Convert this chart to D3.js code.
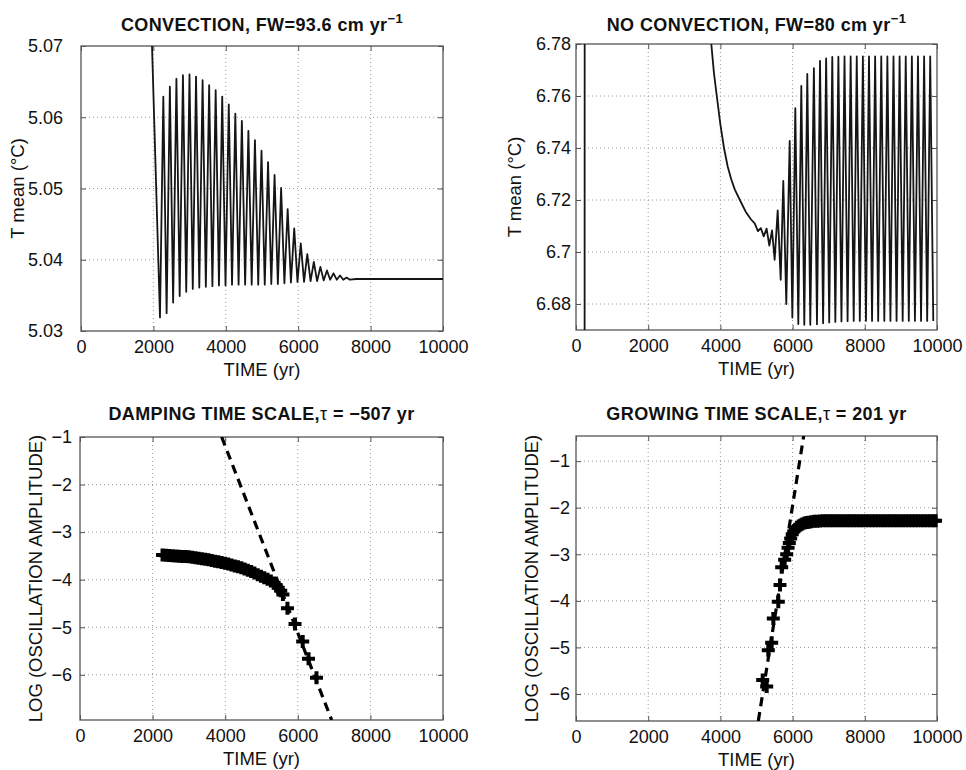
<!DOCTYPE html>
<html><head><meta charset="utf-8">
<script src="https://cdn.jsdelivr.net/npm/d3@7"></script>
<style>
body{margin:0;background:#fff}
svg{display:block}
text{font-family:"Liberation Sans",Arial,Helvetica,sans-serif;fill:#111}
</style></head><body>
<svg id="c" width="966" height="770"></svg>
<script>
// ---------------- DATA ----------------
const xTicks = [0, 2000, 4000, 6000, 8000, 10000];

// Panel 1: convection, mean T (interleaved peaks / troughs)
const p1Time = [1955, 2182,
  2274, 2365, 2455, 2545, 2636, 2726, 2816, 2907, 2997, 3088,
  3178, 3268, 3359, 3449, 3540, 3630, 3720, 3811, 3901, 3992,
  4082, 4172, 4263, 4353, 4444, 4534, 4624, 4715, 4805, 4896,
  4986, 5076, 5167, 5257, 5347, 5438, 5528, 5619, 5709, 5799,
  5890, 5980, 6071, 6161, 6251, 6342, 6432, 6522, 6613, 6703,
  6794, 6884, 6975, 7065, 7155, 7246, 7336, 7426,
  7600, 10000];
const p1Temp = [5.0712, 5.0319,
  5.0629, 5.0325, 5.0643, 5.0340, 5.0654, 5.0349, 5.0659, 5.0355, 5.0660, 5.0359,
  5.0657, 5.0361, 5.0652, 5.0362, 5.0645, 5.0363, 5.0638, 5.0364, 5.0629, 5.0364,
  5.0618, 5.0365, 5.0605, 5.0365, 5.0595, 5.0365, 5.0581, 5.0365, 5.0568, 5.0365,
  5.0553, 5.0365, 5.0537, 5.0366, 5.0519, 5.0366, 5.0501, 5.0367, 5.0471, 5.0368,
  5.0444, 5.0369, 5.0423, 5.0369, 5.0408, 5.0370, 5.0397, 5.0370, 5.0390, 5.0371,
  5.0385, 5.0372, 5.0381, 5.0372, 5.0378, 5.0372, 5.0375, 5.0372,
  5.0373, 5.0373];
const yTicks1 = [5.03, 5.04, 5.05, 5.06, 5.07];
const yLabels1 = ["5.03", "5.04", "5.05", "5.06", "5.07"];

// Panel 2: no convection, mean T
const p2Time = [0, 238, 242, 3690, 3748, 3820, 3900, 4000, 4100, 4200, 4300, 4400, 4540, 4700, 4850, 4950,
  5040, 5120, 5200, 5280, 5355, 5430, 5503, 5587, 5670, 5742, 5825, 5919, 5993, 6075,
  6158, 6241, 6324, 6407, 6490, 6590, 6675, 6760, 6845, 6929, 7014, 7099, 7184, 7268,
  7353, 7438, 7523, 7608, 7693, 7777, 7862, 7947, 8032, 8116, 8201, 8286, 8371, 8456,
  8541, 8625, 8710, 8795, 8880, 8964, 9049, 9134, 9219, 9304, 9389, 9473, 9558, 9643,
  9728, 9812, 9897];
const p2Temp = [6.60, 6.60, 6.95, 6.80, 6.78, 6.769, 6.760, 6.749, 6.740, 6.733, 6.728, 6.724, 6.720, 6.7155, 6.7125, 6.7110,
  6.7080, 6.7092, 6.7060, 6.7090, 6.7025, 6.7083, 6.6970, 6.7160, 6.6893, 6.7273, 6.6800, 6.7427, 6.6748, 6.7553,
  6.6723, 6.7639, 6.6720, 6.7685, 6.6720, 6.7707, 6.6722, 6.7735, 6.6726, 6.7745, 6.6729, 6.7750, 6.6731, 6.7751,
  6.6733, 6.7752, 6.6734, 6.7752, 6.6735, 6.7752, 6.6735, 6.7752, 6.6735, 6.7752, 6.6735, 6.7752, 6.6735, 6.7752,
  6.6735, 6.7752, 6.6735, 6.7752, 6.6735, 6.7752, 6.6735, 6.7752, 6.6735, 6.7752, 6.6735, 6.7752, 6.6735, 6.7752,
  6.6735, 6.7752, 6.6735];
const yTicks2 = [6.68, 6.70, 6.72, 6.74, 6.76, 6.78];
const yLabels2 = ["6.68", "6.7", "6.72", "6.74", "6.76", "6.78"];

// Panel 3: damping, log amplitude markers and fitted line (tau = -507 yr)
const p3Time = [2274, 2365, 2455, 2545, 2636, 2726, 2816, 2907, 2997, 3088, 3178, 3268, 3359, 3449,
  3540, 3630, 3720, 3811, 3901, 3992, 4082, 4172, 4263, 4353, 4444, 4534, 4624, 4715, 4805, 4896,
  4986, 5076, 5167, 5257, 5347, 5400, 5460, 5530, 5590, 5715, 5923, 6135, 6295, 6515];
const p3LogAmp = [-3.48, -3.485, -3.49, -3.495, -3.50, -3.505, -3.51, -3.515, -3.52, -3.53, -3.54, -3.55, -3.56, -3.57,
  -3.58, -3.595, -3.61, -3.625, -3.64, -3.655, -3.67, -3.69, -3.71, -3.73, -3.75, -3.775, -3.80, -3.83, -3.86, -3.895,
  -3.93, -3.96, -3.99, -4.03, -4.07, -4.11, -4.17, -4.23, -4.31, -4.60, -4.93, -5.30, -5.66, -6.06];
const fit3Time = [3903, 6933];
const fit3LogAmp = [-1.0, -6.95];
const yTicks3 = [-6, -5, -4, -3, -2, -1];
const yLabels3 = ["\u22126", "\u22125", "\u22124", "\u22123", "\u22122", "\u22121"];

// Panel 4: growing, log amplitude markers and fitted line (tau = 201 yr)
const p4Time = [5172, 5282, 5327, 5420, 5466, 5604, 5651, 5698, 5780, 5837, 5875, 5909, 5947, 5990, 6030, 6075,
  6120, 6170, 6220, 6270, 6330, 6390, 6450, 6520, 6600, 6680, 6760, 6845, 6929, 7014, 7099, 7184,
  7268, 7353, 7438, 7523, 7608, 7693, 7777, 7862, 7947, 8032, 8116, 8201, 8286, 8371, 8456, 8541,
  8625, 8710, 8795, 8880, 8964, 9049, 9134, 9219, 9304, 9389, 9473, 9558, 9643, 9728, 9812, 9897, 9960];
const p4LogAmp = [-5.70, -5.84, -5.06, -4.90, -4.38, -4.02, -3.66, -3.28, -3.12, -3.00, -2.86, -2.76, -2.66, -2.57, -2.51, -2.46,
  -2.42, -2.39, -2.37, -2.35, -2.33, -2.32, -2.31, -2.30, -2.29, -2.29, -2.285, -2.28, -2.28, -2.28, -2.28, -2.28,
  -2.28, -2.28, -2.28, -2.28, -2.28, -2.28, -2.28, -2.28, -2.28, -2.28, -2.28, -2.28, -2.28, -2.28, -2.28, -2.28,
  -2.28, -2.28, -2.28, -2.28, -2.28, -2.28, -2.28, -2.28, -2.28, -2.28, -2.28, -2.28, -2.28, -2.28, -2.28, -2.28, -2.28];
const fit4Time = [5050, 6307];
const fit4LogAmp = [-6.58, -0.46];
const yTicks4 = [-6, -5, -4, -3, -2, -1];
const yLabels4 = ["\u22126", "\u22125", "\u22124", "\u22123", "\u22122", "\u22121"];

// ---------------- DRAWING ----------------
const svg = d3.select("#c");
const defs = svg.append("defs");
let clipN = 0;

function panel(o) {
  const x = d3.scaleLinear().domain([0, 10000]).range([o.l, o.r]);
  const y = d3.scaleLinear().domain(o.yDomain).range([o.b, o.t]);
  const g = svg.append("g");
  const id = "clip" + (clipN++);
  defs.append("clipPath").attr("id", id).append("rect")
    .attr("x", o.l).attr("y", o.t).attr("width", o.r - o.l).attr("height", o.b - o.t);

  // grid
  const grid = g.append("g").attr("stroke", "#9a9a9a").attr("stroke-width", 1)
    .attr("stroke-dasharray", "1,3");
  grid.selectAll("line.gx").data(xTicks.filter(v => v > 0 && v < 10000)).join("line")
    .attr("x1", d => x(d)).attr("x2", d => x(d)).attr("y1", o.t).attr("y2", o.b);
  grid.selectAll("line.gy").data(o.yTicks.filter(v => y(v) > o.t + 1 && y(v) < o.b - 1)).join("line")
    .attr("class", "gy")
    .attr("y1", d => y(d)).attr("y2", d => y(d)).attr("x1", o.l).attr("x2", o.r);

  // axes
  const styleAxis = sel => {
    sel.attr("font-size", 18).attr("font-family", '"Liberation Sans",Arial,Helvetica,sans-serif');
    sel.select(".domain").remove();
    sel.selectAll(".tick line").attr("stroke", "#555").attr("stroke-width", 1);
    sel.selectAll(".tick text").attr("fill", "#111");
  };
  g.append("g").attr("transform", `translate(0,${o.b})`)
    .call(d3.axisBottom(x).tickValues(xTicks).tickFormat(d3.format("d"))
      .tickSizeInner(-5).tickSizeOuter(0).tickPadding(9)).call(styleAxis);
  g.append("g").attr("transform", `translate(0,${o.t})`)
    .call(d3.axisTop(x).tickValues(xTicks).tickFormat("")
      .tickSizeInner(-5).tickSizeOuter(0)).call(styleAxis);
  g.append("g").attr("transform", `translate(${o.l},0)`)
    .call(d3.axisLeft(y).tickValues(o.yTicks).tickFormat((d, i) => o.yLabels[i])
      .tickSizeInner(-5).tickSizeOuter(0).tickPadding(o.yPad)).call(styleAxis);
  g.append("g").attr("transform", `translate(${o.r},0)`)
    .call(d3.axisRight(y).tickValues(o.yTicks).tickFormat("")
      .tickSizeInner(-5).tickSizeOuter(0)).call(styleAxis);

  // frame
  g.append("rect").attr("x", o.l).attr("y", o.t).attr("width", o.r - o.l).attr("height", o.b - o.t)
    .attr("fill", "none").attr("stroke", "#555").attr("stroke-width", 1.3);

  // title
  const tt = g.append("text").attr("x", (o.l + o.r) / 2).attr("y", o.titleY)
    .attr("text-anchor", "middle").attr("font-size", 18).attr("font-weight", "bold")
    .attr("letter-spacing", 0.4);
  o.title.forEach(p => {
    const ts = tt.append("tspan").text(p.t);
    if (p.sup) ts.attr("font-size", 13).attr("dy", -8);
    if (p.normal) ts.attr("font-weight", "normal");
  });

  // x label
  g.append("text").attr("x", (o.l + o.r) / 2).attr("y", o.b + 45)
    .attr("text-anchor", "middle").attr("font-size", 18.5).text("TIME (yr)");
  // y label
  g.append("text").attr("transform", `translate(${o.yLabelX},${(o.t + o.b) / 2}) rotate(-90)`)
    .attr("text-anchor", "middle").attr("font-size", 18.5).text(o.yLabel);

  return {x, y, g, clip: `url(#${id})`};
}

function drawLine(P, T, V) {
  const line = d3.line().x(d => P.x(d[0])).y(d => P.y(d[1]));
  P.g.append("path").datum(d3.zip(T, V)).attr("d", line).attr("clip-path", P.clip)
    .attr("fill", "none").attr("stroke", "#151515").attr("stroke-width", 1.8)
    .attr("stroke-linejoin", "round");
}
function drawFit(P, T, V) {
  const line = d3.line().x(d => P.x(d[0])).y(d => P.y(d[1]));
  P.g.append("path").datum(d3.zip(T, V)).attr("d", line).attr("clip-path", P.clip)
    .attr("fill", "none").attr("stroke", "#000").attr("stroke-width", 3.2)
    .attr("stroke-dasharray", "9,6");
}
function drawPlus(P, T, V) {
  P.g.append("g").selectAll("path").data(d3.zip(T, V)).join("path")
    .attr("transform", d => `translate(${P.x(d[0])},${P.y(d[1])})`)
    .attr("d", "M-6.5,0H6.5M0,-6.5V6.5")
    .attr("stroke", "#000").attr("stroke-width", 4).attr("fill", "none");
}

const P1 = panel({l: 81, r: 443, t: 46, b: 331, yDomain: [5.03, 5.07], yTicks: yTicks1, yLabels: yLabels1,
  yPad: 18, titleY: 30.5, yLabelX: 24, yLabel: "T mean (\u00B0C)",
  title: [{t: "CONVECTION, FW=93.6 cm yr"}, {t: "\u22121", sup: true}]});
drawLine(P1, p1Time, p1Temp);

const P2 = panel({l: 576, r: 937, t: 44, b: 330, yDomain: [6.67, 6.78], yTicks: yTicks2, yLabels: yLabels2,
  yPad: 5, titleY: 30.5, yLabelX: 521, yLabel: "T mean (\u00B0C)",
  title: [{t: "NO CONVECTION, FW=80 cm yr"}, {t: "\u22121", sup: true}]});
drawLine(P2, p2Time, p2Temp);

const P3 = panel({l: 80, r: 443, t: 437, b: 720, yDomain: [-6.95, -1], yTicks: yTicks3, yLabels: yLabels3,
  yPad: 8, titleY: 420, yLabelX: 42, yLabel: "LOG (OSCILLATION AMPLITUDE)",
  title: [{t: "DAMPING TIME SCALE,"}, {t: "\u03C4", normal: true}, {t: " = \u2212507 yr"}]});
drawFit(P3, fit3Time, fit3LogAmp);
drawPlus(P3, p3Time, p3LogAmp);

const P4 = panel({l: 576, r: 937, t: 436, b: 721, yDomain: [-6.58, -0.46], yTicks: yTicks4, yLabels: yLabels4,
  yPad: 6, titleY: 420, yLabelX: 538, yLabel: "LOG (OSCILLATION AMPLITUDE)",
  title: [{t: "GROWING TIME SCALE,"}, {t: "\u03C4", normal: true}, {t: " = 201 yr"}]});
drawFit(P4, fit4Time, fit4LogAmp);
drawPlus(P4, p4Time, p4LogAmp);
</script>
</body></html>
